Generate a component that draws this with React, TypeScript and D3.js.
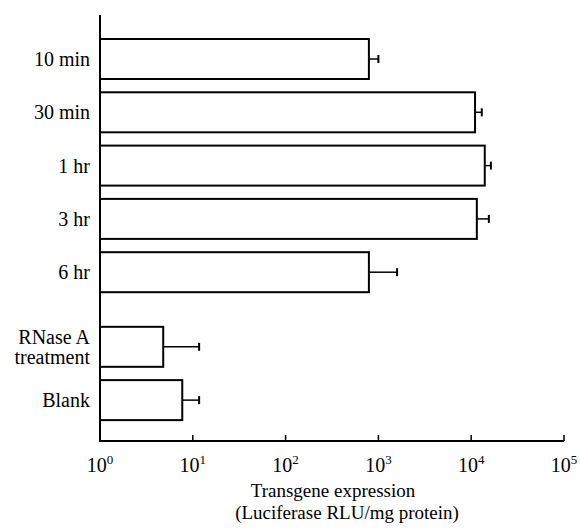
import React from "react";
import { scaleLog, scaleLinear } from "d3";

const categories = ["10 min", "30 min", "1 hr", "3 hr", "6 hr", "RNase A\ntreatment", "Blank"];
const means = [790, 11000, 14000, 11500, 790, 4.8, 7.7];
const errorTops = [1000, 13000, 16300, 15500, 1590, 11.7, 11.7];
const tickExponents = [0, 1, 2, 3, 4, 5];
const titleLines = ["Transgene expression", "(Luciferase RLU/mg protein)"];

const width = 580;
const height = 531;
const axisX = 100;
const axisY = 441;
const barHeight = 40;
const font = "'Liberation Serif', 'Times New Roman', serif";

const App = () => {
  const xScale = scaleLog().domain([1, 1e5]).range([axisX, 564]);
  // the last two groups sit a bit further down, after a gap
  const slot = (i: number) => i + (i >= 5 ? 0.4 : 0);
  const yScale = scaleLinear().domain([0, 1]).range([39, 92.3]);

  return (
    <svg
      width={width}
      height={height}
      style={{ position: "absolute", left: 0, top: 0, background: "#fff" }}
      fontFamily={font}
    >
      {/* axes */}
      <line x1={axisX} x2={axisX} y1={15} y2={axisY + 1} stroke="#000" strokeWidth={2} />
      <line x1={axisX} x2={xScale(1e5)} y1={axisY} y2={axisY} stroke="#000" strokeWidth={2} />
      {tickExponents.map((e) => {
        const x = xScale(Math.pow(10, e));
        return (
          <g key={e}>
            <line x1={x} x2={x} y1={axisY} y2={axisY - 6} stroke="#000" strokeWidth={1.5} />
            <text x={x} y={472} textAnchor="middle" fontSize={20}>
              10
              <tspan dy={-8} fontSize={13}>
                {e}
              </tspan>
            </text>
          </g>
        );
      })}

      {/* bars */}
      {categories.map((c, i) => {
        const y = yScale(slot(i));
        const cy = y + barHeight / 2;
        const xEnd = xScale(means[i]);
        const xErr = xScale(errorTops[i]);
        const lines = c.split("\n");
        return (
          <g key={c}>
            <rect
              x={axisX}
              y={y}
              width={xEnd - axisX}
              height={barHeight}
              fill="#fff"
              stroke="#000"
              strokeWidth={2}
            />
            <line x1={xEnd} x2={xErr} y1={cy} y2={cy} stroke="#000" strokeWidth={1.5} />
            <line x1={xErr} x2={xErr} y1={cy - 4} y2={cy + 4} stroke="#000" strokeWidth={2} />
            {lines.map((t, k) => (
              <text
                key={t}
                x={90}
                y={cy + 7 + (k - (lines.length - 1) / 2) * 20}
                textAnchor="end"
                fontSize={20}
              >
                {t}
              </text>
            ))}
          </g>
        );
      })}

      {/* axis title */}
      <text x={333} y={497} textAnchor="middle" fontSize={19}>
        {titleLines[0]}
      </text>
      <text x={347} y={519} textAnchor="middle" fontSize={19}>
        {titleLines[1]}
      </text>
    </svg>
  );
};

export default App;
